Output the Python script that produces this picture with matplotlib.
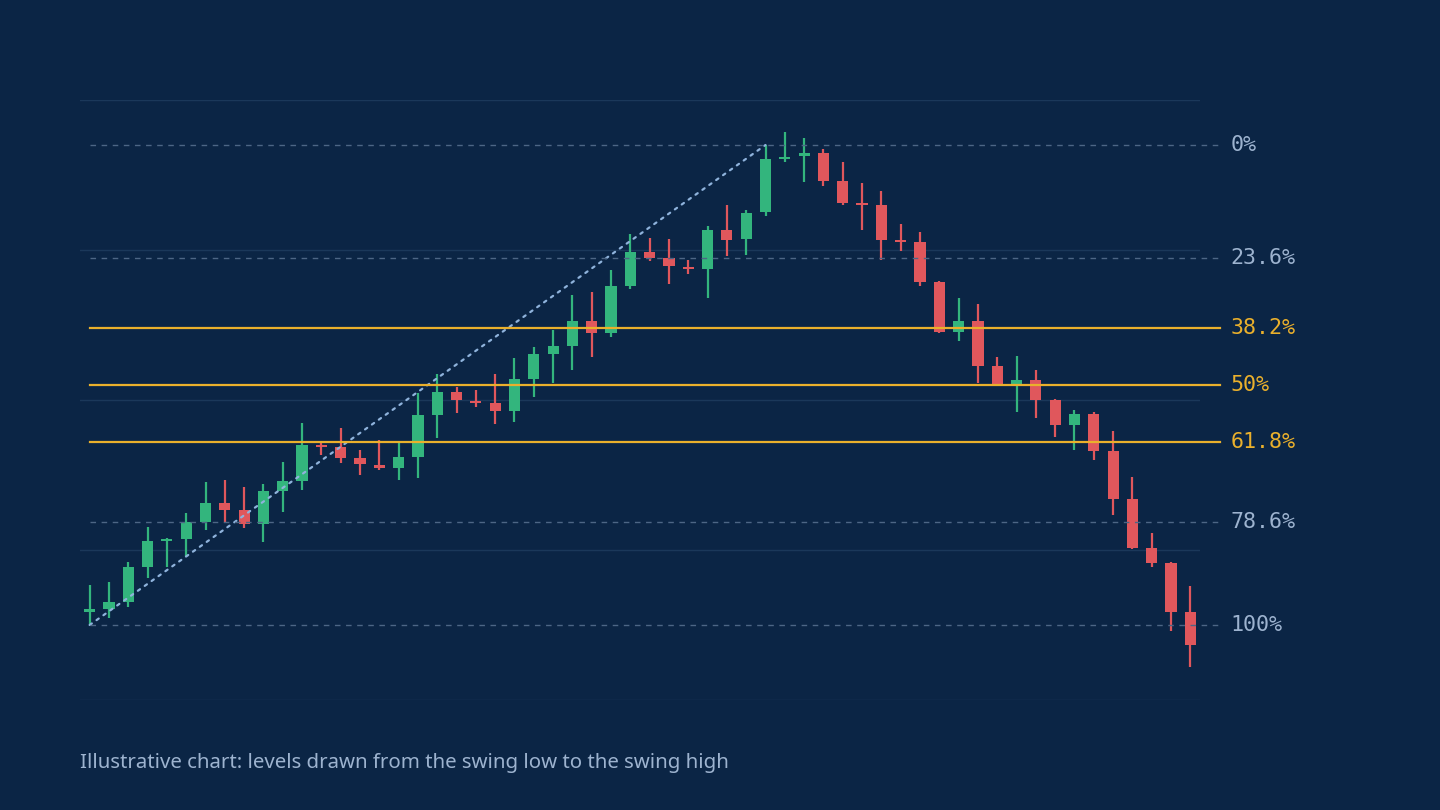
import numpy as np
import matplotlib.pyplot as plt

# candle data, one entry per session
opens = [91.7, 92.1, 93.1, 97.7, 101.2, 101.5, 103.7, 106.3, 105.3, 103.5,
         107.9, 109.2, 114.0, 113.7, 112.3, 111.3, 110.9, 112.4, 118.0, 121.1,
         119.9, 119.6, 118.5, 122.8, 126.1, 127.2, 130.5, 128.9, 135.2, 139.7,
         138.9, 137.7, 137.5, 142.7, 141.4, 145.1, 152.1, 152.5, 152.9, 149.2,
         146.3, 146.0, 141.3, 141.1, 135.7, 129.1, 130.5, 124.5, 121.9, 122.7,
         120.0, 116.7, 118.1, 113.2, 106.8, 100.3, 98.3, 91.7]
closes = [92.1, 93.1, 97.7, 101.2, 101.5, 103.7, 106.3, 105.3, 103.5, 107.9,
          109.2, 114.0, 113.7, 112.3, 111.5, 110.9, 112.4, 118.0, 121.1, 120.0,
          119.6, 118.5, 122.8, 126.1, 127.2, 130.5, 128.9, 135.2, 139.7, 138.9,
          137.9, 137.5, 142.7, 141.3, 144.9, 152.1, 152.4, 152.9, 149.2, 146.3,
          146.0, 141.3, 141.1, 135.7, 129.1, 130.5, 124.5, 122.0, 122.7, 120.0,
          116.7, 118.1, 113.2, 106.8, 100.3, 98.3, 91.7, 87.3]
highs = [95.3, 95.7, 98.4, 103.1, 101.6, 104.9, 109.1, 109.3, 108.4, 108.8,
         111.7, 116.9, 114.4, 116.3, 113.3, 114.7, 114.4, 120.9, 123.5, 121.7,
         121.3, 123.5, 125.6, 127.1, 129.3, 134.0, 134.4, 137.3, 142.1, 141.6,
         141.5, 138.7, 143.2, 146.0, 145.3, 154.0, 155.7, 154.9, 153.5, 151.7,
         148.9, 147.9, 143.5, 142.4, 135.9, 133.6, 132.8, 125.7, 125.9, 124.0,
         120.1, 118.7, 118.4, 115.9, 109.7, 102.3, 98.4, 95.2]
lows = [90.0, 90.9, 92.4, 96.3, 97.7, 99.1, 102.7, 103.6, 102.9, 101.1,
        105.1, 108.0, 112.7, 111.6, 110.0, 110.7, 109.3, 109.6, 114.9, 118.3,
        119.1, 116.8, 117.1, 120.4, 122.3, 124.0, 125.7, 128.4, 134.8, 138.5,
        135.5, 136.8, 133.6, 139.2, 139.3, 144.5, 151.7, 149.1, 148.5, 146.0,
        142.7, 138.7, 139.9, 135.2, 128.9, 127.9, 122.3, 122.0, 118.4, 117.6,
        115.1, 113.3, 112.0, 104.7, 100.1, 97.7, 89.2, 84.4]

swing_low = 90.0
swing_high = 154.0
low_idx = 0
high_idx = 35

fib_ratios = [0.0, 0.236, 0.382, 0.5, 0.618, 0.786, 1.0]
fib_labels = ["0%", "23.6%", "38.2%", "50%", "61.8%", "78.6%", "100%"]
key_levels = ["38.2%", "50%", "61.8%"]

caption = "Illustrative chart: levels drawn from the swing low to the swing high"

BG = "#0b2545"
UP = "#33b57d"
DOWN = "#e0575c"
GOLD = "#eab02c"
MUTED = "#9db3cf"
DASH = "#4d6685"
GRID = "#1b385a"

fig = plt.figure(figsize=(14.4, 8.1), dpi=100, facecolor=BG)
ax = fig.add_axes([80 / 1440, 110 / 810, 1120 / 1440, 600 / 810])
ax.set_facecolor(BG)

x = np.arange(len(opens))
o = np.array(opens)
c = np.array(closes)
up = c >= o
colors = np.where(up, UP, DOWN)

ax.vlines(x, lows, highs, colors=colors, linewidth=1.6, zorder=3)
body_bottom = np.minimum(o, c)
body_height = np.maximum(np.abs(c - o), 0.25)
ax.bar(x, body_height, bottom=body_bottom, width=0.58, color=colors,
       linewidth=0, zorder=4)

# swing line
ax.plot([low_idx, high_idx], [swing_low, swing_high], color="#8fb3dc",
        linestyle=(0, (1.2, 2.6)), linewidth=1.6, dash_capstyle="round", zorder=5)

# fib levels
x_end = len(opens) + 0.55
for r, lab in zip(fib_ratios, fib_labels):
    level = swing_high - r * (swing_high - swing_low)
    if lab in key_levels:
        ax.plot([low_idx, x_end], [level, level], color=GOLD, linewidth=1.6,
                clip_on=False, zorder=6)
        col = GOLD
    else:
        ax.plot([low_idx, x_end], [level, level], color=DASH, linewidth=1.0,
                linestyle=(0, (4, 4)), clip_on=False, zorder=6)
        col = MUTED
    ax.text(x_end + 0.52, level, lab, color=col, fontsize=15.6,
            family="DejaVu Sans Mono", va="center", ha="left")

ax.set_xlim(-0.5, len(opens) - 0.5)
ax.set_ylim(80, 160)
ax.set_yticks([80, 100, 120, 140, 160])
ax.grid(axis="y", color=GRID, linewidth=1.0, zorder=0)
ax.tick_params(left=False, bottom=False, labelleft=False, labelbottom=False)
ax.set_xticks([])
for s in ax.spines.values():
    s.set_visible(False)

fig.text(80 / 1440, 1 - 763 / 810, caption, color=MUTED, fontsize=14.7,
         family="Noto Sans", va="center", ha="left")

fig.savefig("out.png", dpi=100, facecolor=BG)
